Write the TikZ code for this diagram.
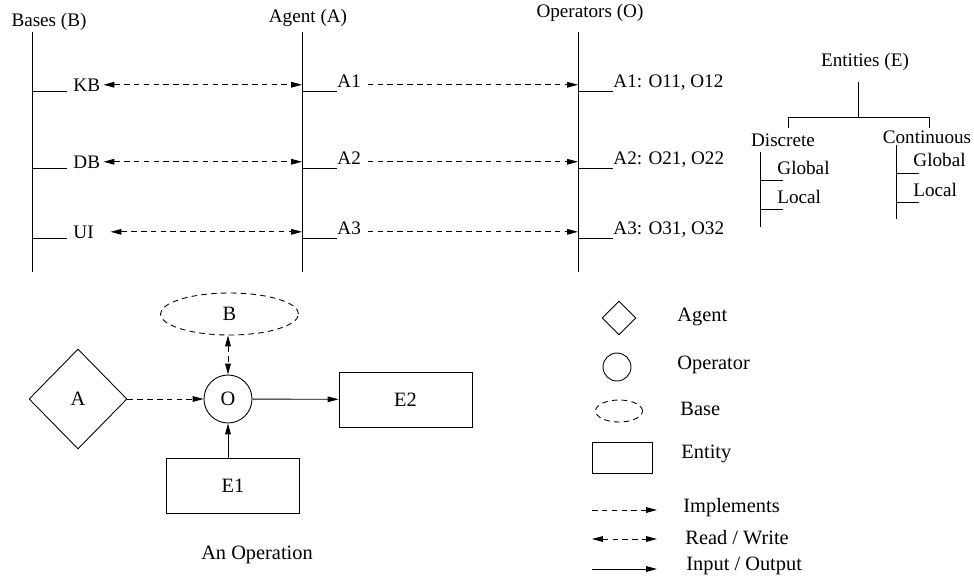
\documentclass[tikz,border=0pt]{standalone}
\usepackage{fontspec}
\setmainfont{Liberation Serif}
\usetikzlibrary{shapes.geometric,arrows.meta}

\tikzset{
  tip/.tip={Triangle[length=6.2pt,width=3.2pt]},
  dsh/.style={dash pattern=on 3.2pt off 2.4pt},
  impl/.style={dsh, -tip},
  rw/.style={dsh, tip-tip},
  io/.style={-tip},
  lbl/.style={inner sep=0pt, anchor=base west},
  txt/.style={inner sep=0pt, anchor=west},
  agent/.style={draw, diamond, inner sep=0pt, minimum width=1.96cm, minimum height=2cm},
  oper/.style={draw, circle, inner sep=0pt, minimum size=0.96cm},
  base/.style={draw, dsh, ellipse, inner sep=0pt, minimum width=2.76cm, minimum height=0.84cm},
  entity/.style={draw, rectangle, inner sep=0pt, minimum width=2.66cm, minimum height=1.1cm}
}

\begin{document}
\begin{tikzpicture}[x=0.02cm,y=-0.02cm,font=\fontsize{10.9}{13}\selectfont,line width=0.5pt]
\useasboundingbox (0,0) rectangle (974,579);
%========================================
% TOP: bases, agents and operators
%========================================
\coordinate (btop) at (32,32);  \coordinate (bbot) at (32,272);
\coordinate (atop) at (302,32); \coordinate (abot) at (302,272);
\coordinate (otop) at (578,32); \coordinate (obot) at (578,272);
\draw (btop) -- (bbot);
\draw (atop) -- (abot);
\draw (otop) -- (obot);
\node[anchor=base] (bhead) at (49,26) {Bases (B)};
\node[anchor=base] (ahead) at (308,22) {Agent (A)};
\node[anchor=base] (ohead) at (590,17) {Operators (O)};
\foreach \y/\b/\i/\g in {91/KB/1/0.06cm, 168/DB/2/0.06cm, 238/UI/3/0.33cm}{
	% ticks
	\draw (32,\y) -- (67,\y);
	\draw (302,\y) -- (337,\y);
	\draw (578,\y) -- (613,\y);
	% labels
	\node[lbl] (b\i) at (73,\y) {\b};
	\node[lbl] (a\i) at (337,\y-4) {A\i};
	\node[lbl] (o\i) at (613,\y-4) {A\i: O\i1, O\i2};
	% read/write and implements
	\draw[rw, shorten <=\g] (b\i.east) -- (b\i.east -| atop);
	\draw[impl, shorten <=0.13cm] (a\i.east |- b\i.east) -- (b\i.east -| otop);
}
%========================================
% TOP RIGHT: entity tree
%========================================
\node (ent) at (865,62) {Entities (E)};
\draw (858,82) -- (858,117) (788,128) -- (788,117) -- (929,117) -- (929,128);
\node (disc) at (783,140) {Discrete};
\draw (760,152) -- (760,227) (760,180) -- (783,180) (760,209) -- (783,209);
\node[txt] (dglob) at (777,168) {Global};
\node[txt] (dloc) at (777,197) {Local};
\node (cont) at (927,137) {Continuous};
\draw (896,145) -- (896,219) (896,173) -- (919,173) (896,202) -- (919,202);
\node[txt] (cglob) at (913,160) {Global};
\node[txt] (cloc) at (913,190) {Local};
%========================================
% BOTTOM LEFT: an operation
%========================================
\begin{scope}[font=\fontsize{11.6}{14}\selectfont]
\node[agent] (A) at (78,399) {A};
\node[oper] (O) at (228,399) {O};
\node[base] (B) at (229.5,314) {B};
\node[entity] (E2) at (405.5,399.5) {E2};
\node[entity] (E1) at (233,485.5) {E1};
\draw[impl] (A) -- (O);
\draw[io] (O) -- (E2);
\draw[io] (O |- E1.north) -- (O);
\draw[rw] (O |- B.south) -- (O);
\node (cap) at (257,555) {An Operation};
\end{scope}
%========================================
% BOTTOM RIGHT: legend
%========================================
\begin{scope}[font=\fontsize{11.6}{14}\selectfont]
\node[draw, diamond, inner sep=0pt, minimum size=0.68cm] (lA) at (619,318) {};
\node[txt] at (677,317) {Agent};
\node[draw, circle, inner sep=0pt, minimum size=0.56cm] (lO) at (617,367) {};
\node[txt] at (677,365) {Operator};
\node[draw, dsh, ellipse, inner sep=0pt, minimum width=0.94cm, minimum height=0.44cm] (lB) at (619,411) {};
\node[txt] at (680,409) {Base};
\node[draw, inner sep=0pt, minimum width=1.2cm, minimum height=0.62cm] (lE) at (622,457.5) {};
\node[txt] at (681,454) {Entity};
\coordinate (i1) at (592,510); \coordinate (i2) at (657,510);
\coordinate (r1) at (592,539); \coordinate (r2) at (657,539);
\coordinate (p1) at (592,569); \coordinate (p2) at (657,569);
\draw[impl] (i1) -- (i2);
\draw[rw] (r1) -- (r2);
\draw[io] (p1) -- (p2);
\node[txt] at (683,508) {Implements};
\node[txt] at (685,538) {Read / Write};
\node[txt] at (686,566) {Input / Output};
\end{scope}
\end{tikzpicture}
\end{document}
